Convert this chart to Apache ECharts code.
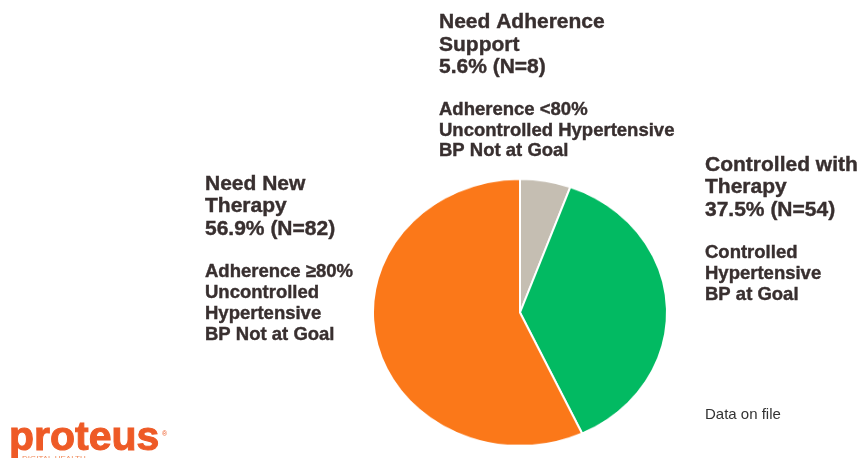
<!DOCTYPE html>
<html>
<head>
<meta charset="utf-8">
<script src="https://cdn.jsdelivr.net/npm/echarts@6/dist/echarts.min.js"></script>
<style>
  * { box-sizing: border-box; margin: 0; padding: 0; }
  body { background: #fff; }
  #text, #pie { position: absolute; left: 0; top: 0; width: 862px; height: 458px; }
  /* the reference pie is slightly flattened */
  #pie { transform: scaleY(0.908); transform-origin: 0 312.5px; }
</style>
</head>
<body>
<div id="text"></div>
<div id="pie"></div>
<script>
  // slices, clockwise from 12 o'clock
  const groups = ['Need Adherence Support', 'Controlled with Therapy', 'Need New Therapy'];
  const counts = [8, 54, 82];
  const percents = ['5.6%', '37.5%', '56.9%'];
  const colors = ['#c5beb2', '#02ba62', '#fb7819'];

  const ink = '#382f2f';
  const font = '"Liberation Sans", Arial, sans-serif';

  // 基于准备好的dom，初始化echarts实例
  const pieChart = echarts.init(document.getElementById('pie'));
  pieChart.setOption({
    animation: false,
    series: [{
      type: 'pie',
      center: [520, 312.5],
      radius: 147,
      startAngle: 90,
      clockwise: true,
      silent: true,
      label: { show: false },
      labelLine: { show: false },
      itemStyle: { borderColor: '#fff', borderWidth: 2 },
      data: groups.map((g, i) => ({ name: g, value: counts[i], itemStyle: { color: colors[i] } }))
    }]
  });

  // text blocks
  function block(x, lines, startY, size, step) {
    return lines.map((t, i) => ({
      type: 'text', x: x, y: startY + i * step,
      style: {
        text: t, fill: ink, stroke: ink, lineWidth: 0.4,
        font: 'bold ' + size + 'px ' + font, textVerticalAlign: 'middle'
      }
    }));
  }

  const elements = [].concat(
    block(439, ['Need Adherence', 'Support', percents[0] + ' (N=' + counts[0] + ')'], 22.5, 21, 22.5),
    block(439, ['Adherence <80%', 'Uncontrolled Hypertensive', 'BP Not at Goal'], 110, 18.5, 20.5),
    block(705, ['Controlled with', 'Therapy', percents[1] + ' (N=' + counts[1] + ')'], 165, 21, 22.5),
    block(705, ['Controlled', 'Hypertensive', 'BP at Goal'], 253, 18.5, 21),
    block(205, ['Need New', 'Therapy', percents[2] + ' (N=' + counts[2] + ')'], 184, 21, 22.5),
    block(205, ['Adherence \u226580%', 'Uncontrolled', 'Hypertensive', 'BP Not at Goal'], 271.5, 18.5, 21),
    [
      { type: 'text', x: 705, y: 415,
        style: { text: 'Data on file', fill: '#333', font: '15px ' + font, textVerticalAlign: 'middle' } },
      { type: 'text', x: 9, y: 439,
        style: { text: 'proteus', fill: '#ee5a26', stroke: '#ee5a26', lineWidth: 1,
                 font: 'bold 41px ' + font, textVerticalAlign: 'middle' } },
      { type: 'text', x: 162, y: 434,
        style: { text: '®', fill: '#ee5a26', font: '7px ' + font, textVerticalAlign: 'middle' } },
      { type: 'text', x: 22, y: 459,
        style: { text: 'DIGITAL HEALTH', fill: '#f08a5a', font: '8px ' + font, textVerticalAlign: 'middle' } }
    ]
  );

  const textChart = echarts.init(document.getElementById('text'));
  textChart.setOption({ animation: false, graphic: { elements: elements } });
</script>
</body>
</html>
